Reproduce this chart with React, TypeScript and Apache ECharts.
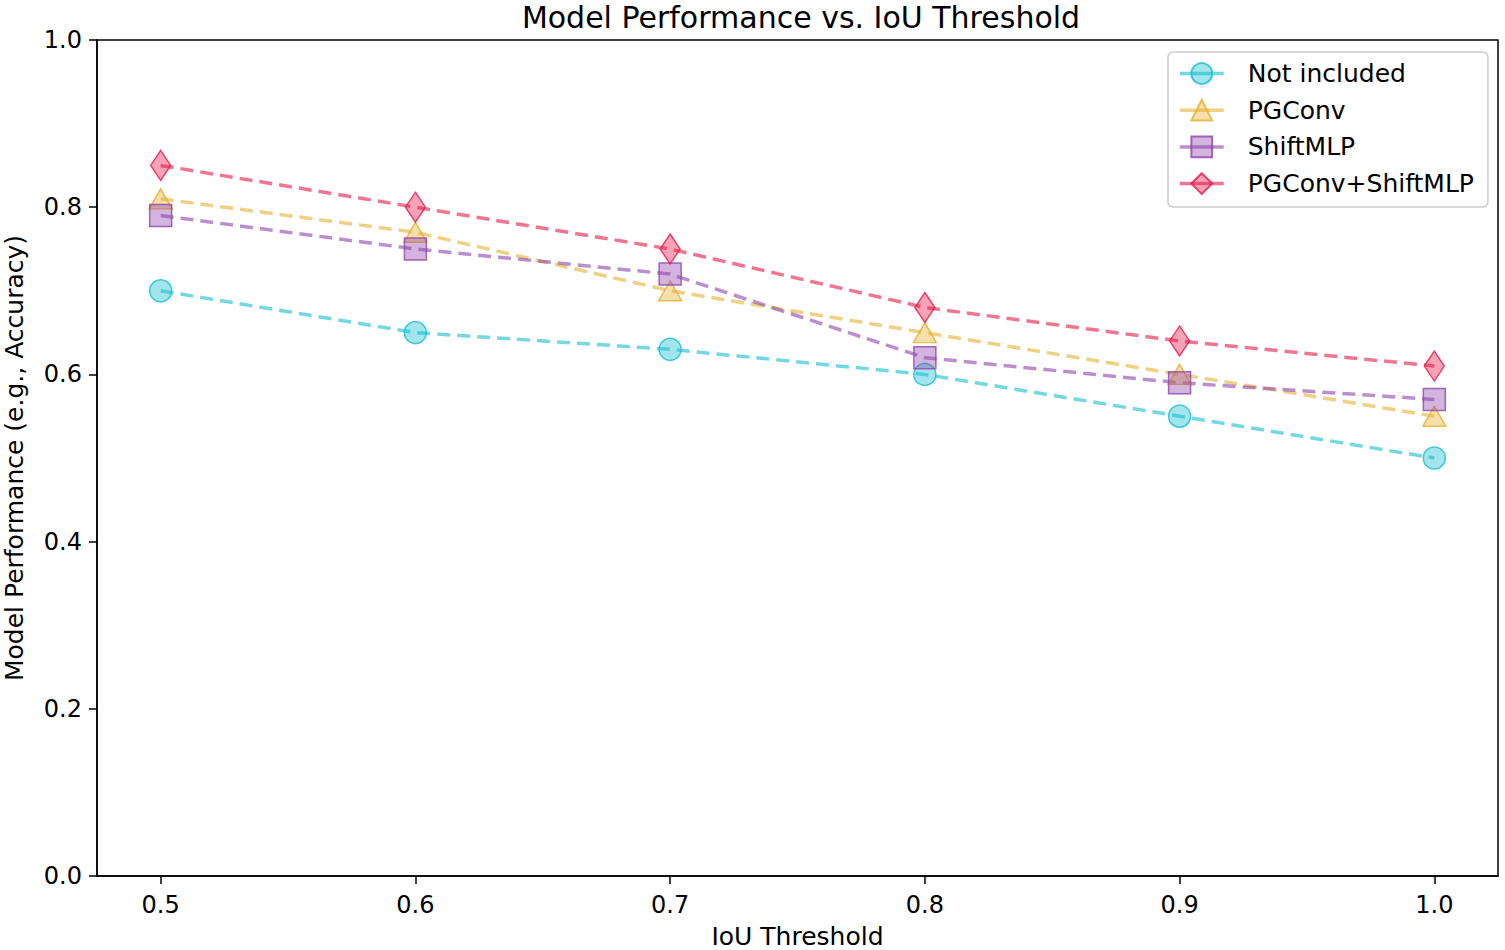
import React, { useEffect, useRef } from "react";
import * as echarts from "echarts";

const xValues = [0.5, 0.6, 0.7, 0.8, 0.9, 1.0];
const notIncluded = [0.7, 0.65, 0.63, 0.6, 0.55, 0.5];
const pgConv = [0.81, 0.77, 0.7, 0.65, 0.6, 0.55];
const shiftMLP = [0.79, 0.75, 0.72, 0.62, 0.59, 0.57];
const pgConvShiftMLP = [0.85, 0.8, 0.75, 0.68, 0.64, 0.61];
const yTicks = [0, 0.2, 0.4, 0.6, 0.8, 1.0];

const FONT = "DejaVu Sans";

function mkSeries(name: string, vals: number[], color: string, fill: string, symbol: string, size: any) {
  return {
    name,
    type: "line",
    data: xValues.map((x, i) => [x, vals[i]]),
    symbol,
    symbolSize: size,
    lineStyle: { color, width: 3.5, type: [13, 7], opacity: 0.6 },
    itemStyle: { color: fill, borderColor: color, borderWidth: 1.5, opacity: 0.8 },
    emphasis: { disabled: true },
  };
}

export default function App() {
  const ref = useRef<HTMLDivElement>(null);
  useEffect(() => {
    const chart = echarts.init(ref.current!, null, { renderer: "svg" });
    chart.setOption({
      animation: false,
      backgroundColor: "#fff",
      textStyle: { fontFamily: FONT },
      title: {
        text: "Model Performance vs. IoU Threshold",
        left: 796,
        textAlign: "center",
        top: -3,
        textStyle: { fontFamily: FONT, fontSize: 30, fontWeight: "normal", color: "#000" },
      },
      legend: {
        orient: "vertical",
        left: 1168,
        top: 52,
        padding: [9, 14, 11, 10],
        itemWidth: 44,
        itemHeight: 26,
        itemGap: 11.7,
        borderColor: "#ccc",
        borderWidth: 1.5,
        borderRadius: 5,
        lineStyle: { type: "solid", width: 3.5 },
        textStyle: { fontFamily: FONT, fontSize: 25, color: "#000", padding: [0, 0, 0, 19] },
        data: ["Not included", "PGConv", "ShiftMLP", "PGConv+ShiftMLP"],
      },
      grid: {
        left: 97,
        right: 7,
        top: 40,
        bottom: 74,
        show: true,
        borderColor: "#000",
        borderWidth: 1.5,
        outerBoundsMode: "none",
        containLabel: false,
      },
      xAxis: {
        type: "value",
        min: 0.475,
        max: 1.025,
        name: "IoU Threshold",
        nameLocation: "middle",
        nameGap: 48,
        nameTextStyle: { fontFamily: FONT, fontSize: 25, color: "#000" },
        axisLine: { show: true, lineStyle: { color: "#000", width: 1.5 } },
        axisTick: { show: true, length: 8, lineStyle: { color: "#000", width: 1.5 }, customValues: xValues },
        axisLabel: {
          fontFamily: FONT,
          fontSize: 24,
          color: "#000",
          margin: 17,
          customValues: xValues,
          formatter: (v: number) => v.toFixed(1),
        },
        splitLine: { show: false },
      },
      yAxis: {
        type: "value",
        min: 0,
        max: 1,
        interval: 0.2,
        name: "Model Performance (e.g., Accuracy)",
        nameLocation: "middle",
        nameGap: 70,
        nameTextStyle: { fontFamily: FONT, fontSize: 25, color: "#000" },
        axisLine: { show: true, lineStyle: { color: "#000", width: 1.5 } },
        axisTick: { show: true, length: 8, lineStyle: { color: "#000", width: 1.5 }, customValues: yTicks },
        axisLabel: {
          fontFamily: FONT,
          fontSize: 24,
          color: "#000",
          margin: 15,
          customValues: yTicks,
          formatter: (v: number) => v.toFixed(1),
        },
        splitLine: { show: false },
      },
      series: [
        mkSeries("Not included", notIncluded, "#17becf", "rgba(23,190,207,0.5)", "circle", 22),
        mkSeries("PGConv", pgConv, "#e6b02e", "rgba(230,176,46,0.5)", "triangle", [23, 20]),
        mkSeries("ShiftMLP", shiftMLP, "#8e44ad", "rgba(142,68,173,0.5)", "rect", 22),
        mkSeries("PGConv+ShiftMLP", pgConvShiftMLP, "#e6194b", "rgba(230,25,75,0.5)", "diamond", [20, 30]),
      ],
    });
    return () => chart.dispose();
  }, []);
  return (
    <div
      ref={ref}
      style={{ position: "fixed", left: 0, top: 0, width: 1505, height: 950 }}
    />
  );
}
